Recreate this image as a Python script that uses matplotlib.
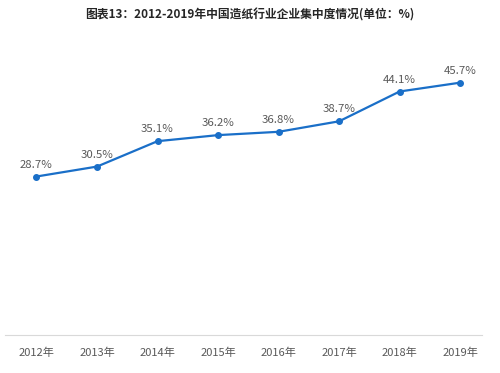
import matplotlib

matplotlib.use("Agg")
import matplotlib.pyplot as plt  # noqa: E402

plt.rcParams["font.family"] = ["Noto Sans CJK SC", "DejaVu Sans"]

years = ["2012年", "2013年", "2014年", "2015年", "2016年", "2017年", "2018年", "2019年"]
share = [28.7, 30.5, 35.1, 36.2, 36.8, 38.7, 44.1, 45.7]

line_color = "#1a6fc8"
text_color = "#595959"

fig = plt.figure(figsize=(5.0, 3.73), dpi=100)
ax = fig.add_axes([0.01, 0.102, 0.955, 0.74])

x = list(range(len(years)))
ax.plot(x, share, color=line_color, linewidth=1.6, marker="o", markersize=4)
for xi, v in zip(x, share):
    ax.annotate(f"{v}%", (xi, v), xytext=(0, 5), textcoords="offset points",
                ha="center", va="bottom", fontsize=8.2, color=text_color)

ax.set_xlim(-0.52, 7.37)
ax.set_ylim(0, 50)
ax.set_xticks(x)
ax.set_xticklabels(years, fontsize=8, color=text_color)
ax.tick_params(axis="x", length=0, pad=9)
ax.set_yticks([])
for side in ("top", "right", "left"):
    ax.spines[side].set_visible(False)
ax.spines["bottom"].set_color("#d9d9d9")

fig.text(0.5, 0.96, "图表13：2012-2019年中国造纸行业企业集中度情况(单位：%)",
         ha="center", va="center", fontsize=8.5, fontweight="bold", color="#262626")

fig.savefig("out.png", dpi=100)
